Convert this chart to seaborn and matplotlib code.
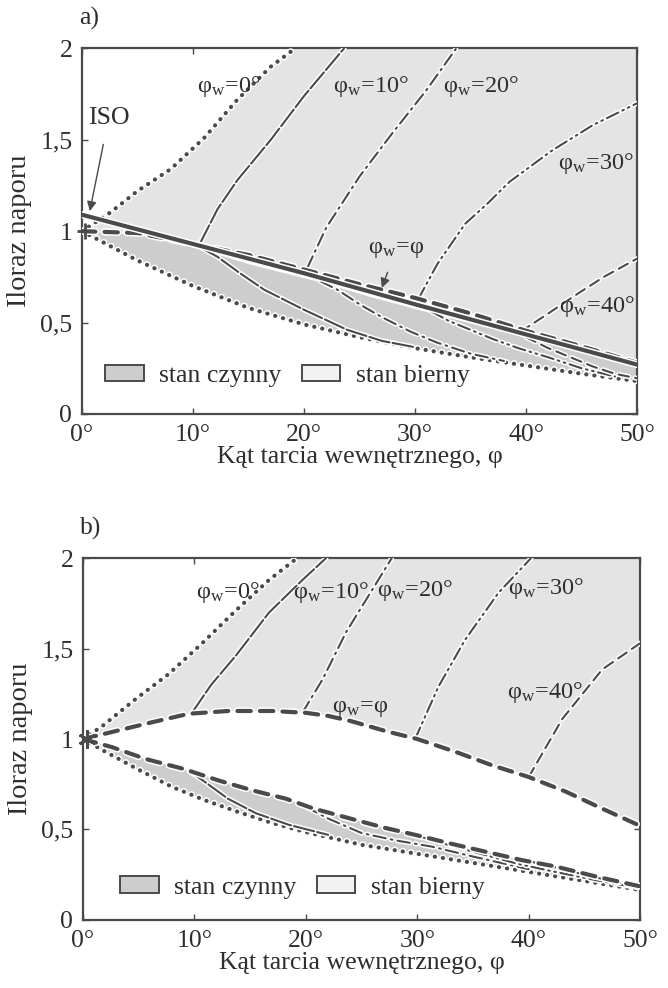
import numpy as np
import pandas as pd
import matplotlib
matplotlib.use("Agg")
import matplotlib.pyplot as plt
import matplotlib.patches as mpatches
import matplotlib.patheffects as pe
import seaborn as sns

# ── dane ─────────────────────────────────────────────────────────────────────
# a) górna i dolna krzywa kropkowana (phi_w = 0)
phi_up_a = [0, 2.5, 5, 8, 11, 14, 17, 19.2]
k_up_a = [1.0, 1.10, 1.22, 1.34, 1.51, 1.72, 1.90, 2.0]
phi_low_a = [0, 5, 10, 15, 20, 25, 30, 35, 40, 45, 50]
k_low_a = [1.0, 0.84, 0.70, 0.58, 0.49, 0.42, 0.36, 0.31, 0.265, 0.22, 0.18]
phi_iso = [0, 10, 20, 30, 40, 50]
k_iso = [1.09, 0.93, 0.77, 0.60, 0.435, 0.27]
# a) phi_w = phi, stan bierny / czynny
phi_pp_a = [0, 5, 10, 15, 20, 25, 30, 35, 40, 45, 50]
k_pp_a = [1.0, 0.99, 0.93, 0.87, 0.79, 0.71, 0.635, 0.55, 0.455, 0.37, 0.28]
phi_pa_a = [0, 5, 10.7, 15, 21.5, 26, 31.5, 36, 40, 45, 50]
k_pa_a = [1.0, 0.98, 0.90, 0.82, 0.72, 0.64, 0.55, 0.48, 0.42, 0.34, 0.26]
# a) stan bierny, phi_w = 10..40
phi_p10_a = [10.6, 12.2, 14, 17, 20, 23.6]
k_p10_a = [0.93, 1.12, 1.28, 1.50, 1.74, 2.0]
phi_p20_a = [20.3, 22, 25, 28, 31, 33.7]
k_p20_a = [0.80, 1.02, 1.30, 1.54, 1.77, 2.0]
phi_p30_a = [30.3, 32, 34.5, 36.5, 38.5, 42.3, 46, 50]
k_p30_a = [0.63, 0.82, 1.04, 1.15, 1.27, 1.44, 1.58, 1.70]
phi_p40_a = [39.5, 42, 44.7, 47, 50]
k_p40_a = [0.45, 0.55, 0.66, 0.75, 0.85]
# a) stan czynny, phi_w = 10..40
phi_a10_a = [10.7, 12.2, 14, 16.4, 20, 23.9, 27, 30]
k_a10_a = [0.91, 0.86, 0.78, 0.68, 0.57, 0.46, 0.40, 0.365]
phi_a20_a = [21.5, 23, 25, 27, 29.6, 32, 35, 38]
k_a20_a = [0.725, 0.68, 0.60, 0.53, 0.45, 0.39, 0.33, 0.29]
phi_a30_a = [31.5, 33, 35, 37, 39.3, 42, 45, 48]
k_a30_a = [0.56, 0.51, 0.46, 0.41, 0.36, 0.31, 0.25, 0.205]
phi_a40_a = [40, 42, 44, 46, 48, 50]
k_a40_a = [0.42, 0.36, 0.31, 0.26, 0.22, 0.195]

# b)
phi_up_b = [0, 1.7, 4.7, 7.7, 10.7, 13.7, 16.7, 19.2]
k_up_b = [1.0, 1.07, 1.22, 1.36, 1.53, 1.71, 1.88, 2.0]
phi_low_b = [0, 2, 5, 8, 11, 14, 17, 20, 25, 30, 35, 40, 45, 50]
k_low_b = [1.0, 0.93, 0.83, 0.735, 0.66, 0.595, 0.535, 0.485, 0.415, 0.365, 0.315, 0.265, 0.215, 0.165]
phi_pp_b = [0, 3, 6, 9.5, 13, 17, 20, 22, 24, 27.4, 30, 33.4, 36.7, 40, 43.3, 46.6, 50]
k_pp_b = [1.0, 1.045, 1.09, 1.14, 1.155, 1.155, 1.145, 1.128, 1.10, 1.04, 1.0, 0.93, 0.855, 0.79, 0.71, 0.615, 0.52]
phi_pa_b = [0, 2.6, 5.6, 9, 12.2, 15.2, 18.2, 20.7, 24, 27, 29.8, 33.1, 36.1, 39.4, 42.4, 46, 50]
k_pa_b = [1.0, 0.955, 0.89, 0.835, 0.77, 0.716, 0.67, 0.615, 0.56, 0.51, 0.47, 0.42, 0.377, 0.33, 0.295, 0.24, 0.185]
phi_p10_b = [9.8, 11.5, 13.7, 16.7, 19.7, 21.8]
k_p10_b = [1.147, 1.30, 1.46, 1.70, 1.88, 2.0]
phi_p20_b = [19.7, 21.5, 23.6, 25.5, 27.7]
k_p20_b = [1.147, 1.33, 1.59, 1.78, 2.0]
phi_p30_b = [29.8, 31.9, 34.3, 37.3, 40.2]
k_p30_b = [1.0, 1.29, 1.55, 1.81, 2.0]
phi_p40_b = [40, 43, 46.6, 50]
k_p40_b = [0.79, 1.11, 1.385, 1.53]
phi_a10_b = [9.5, 11, 13, 15.5, 18.5, 22]
k_a10_b = [0.825, 0.76, 0.67, 0.59, 0.525, 0.47]
phi_a20_b = [20, 22, 25, 28, 31.3, 35, 40]
k_a20_b = [0.625, 0.56, 0.48, 0.44, 0.405, 0.35, 0.28]
phi_a30_b = [30, 33, 36, 39, 42, 46, 50]
k_a30_b = [0.465, 0.41, 0.36, 0.31, 0.27, 0.22, 0.175]
phi_a40_b = [40, 43, 46, 50]
k_a40_b = [0.325, 0.28, 0.235, 0.18]

x_ticks = [0, 10, 20, 30, 40, 50]
x_ticklabels = ["0°", "10°", "20°", "30°", "40°", "50°"]
y_ticks = [0, 0.5, 1, 1.5, 2]
y_ticklabels = ["0", "0,5", "1", "1,5", "2"]

# ── styl ─────────────────────────────────────────────────────────────────────
sns.set_style("ticks")
plt.rcParams["font.family"] = ["Liberation Serif", "DejaVu Serif"]
plt.rcParams["mathtext.fontset"] = "stix"

LC = "#4a4a4a"
TC = "#2e2e2e"
C_BIERNY = "#e4e4e4"
C_CZYNNY = "#cdcdcd"
FS = 18.5

DOT = (0, (0.05, 1.9))
LONG = (0, (10, 1.5))
DASHDOT = (0, (6, 2.5, 0.8, 2.5))
DASHDOT2 = (0, (6, 2.2, 0.8, 2.2, 0.8, 2.2))
DASH = (0, (5, 3))
BOLDDASH = (0, (3.2, 2.2))


def line(ax, x, y, ls, lw):
    df = pd.DataFrame({"phi": x, "K": y})
    sns.lineplot(data=df, x="phi", y="K", ax=ax, color=LC, lw=lw, linestyle=ls,
                 sort=False, estimator=None, dash_capstyle="round",
                 path_effects=[pe.Stroke(linewidth=lw + 2.2, foreground="white"), pe.Normal()],
                 zorder=3)


def region(ax, x_top, y_top, x_bot, y_bot, color):
    xs = list(x_top) + list(x_bot)[::-1]
    ys = list(y_top) + list(y_bot)[::-1]
    ax.fill(xs, ys, color=color, lw=0, zorder=1)


def wlab(v):
    return "φ$_\\mathregular{w}$=" + v


def style_axes(ax, panel, legend_anchor):
    ax.set_xlim(0, 50)
    ax.set_ylim(0, 2)
    ax.set_xticks(x_ticks)
    ax.set_xticklabels(x_ticklabels)
    ax.set_yticks(y_ticks)
    ax.set_yticklabels(y_ticklabels)
    ax.tick_params(direction="in", top=True, right=True, length=4, width=1,
                   color=LC, labelsize=FS, labelcolor=TC, pad=7)
    for s in ax.spines.values():
        s.set_color(LC)
        s.set_linewidth(1.6)
    ax.set_xlabel("Kąt tarcia wewnętrznego, φ", fontsize=FS, color=TC, labelpad=0)
    ax.set_ylabel("Iloraz naporu", fontsize=FS + 2, color=TC, labelpad=6)
    ax.text(-0.005, 1.05, panel, transform=ax.transAxes, fontsize=FS, color=TC,
            ha="left", va="bottom")
    handles = [mpatches.Patch(facecolor=C_CZYNNY, edgecolor=LC, lw=1.4, label="stan czynny"),
               mpatches.Patch(facecolor="#f2f2f2", edgecolor=LC, lw=1.4, label="stan bierny")]
    ax.legend(handles=handles, ncol=2, loc="lower left", bbox_to_anchor=legend_anchor,
              frameon=False, fontsize=FS, handlelength=1.5, handleheight=0.6,
              handletextpad=0.6, columnspacing=0.8, labelcolor=TC)


fig = plt.figure(figsize=(6.68, 9.88), dpi=100)
ax_a = fig.add_axes([0.1228, 0.581, 0.831, 0.370])
ax_b = fig.add_axes([0.1243, 0.069, 0.834, 0.366])

# ── a) ───────────────────────────────────────────────────────────────────────
ax = ax_a
region(ax, phi_up_a + [50], k_up_a + [2.0], phi_pp_a, k_pp_a, C_BIERNY)
region(ax, phi_pa_a, k_pa_a, phi_low_a, k_low_a, C_CZYNNY)
line(ax, phi_up_a, k_up_a, DOT, 3.0)
line(ax, phi_low_a, k_low_a, DOT, 3.0)
line(ax, phi_p10_a, k_p10_a, LONG, 1.5)
line(ax, phi_p20_a, k_p20_a, DASHDOT, 1.5)
line(ax, phi_p30_a, k_p30_a, DASHDOT2, 1.5)
line(ax, phi_p40_a, k_p40_a, DASH, 1.5)
line(ax, phi_a10_a, k_a10_a, LONG, 1.5)
line(ax, phi_a20_a, k_a20_a, DASHDOT, 1.5)
line(ax, phi_a30_a, k_a30_a, DASHDOT2, 1.5)
line(ax, phi_a40_a, k_a40_a, DASH, 1.5)
line(ax, phi_pp_a, k_pp_a, BOLDDASH, 3.0)
line(ax, phi_iso, k_iso, "-", 3.0)
ax.plot([0.3], [1.0], marker="+", ms=12, mew=2, color=LC, zorder=4, clip_on=False)

lab = dict(fontsize=17.5, color=TC, ha="center", va="center", zorder=5)
ax.text(13.2, 1.79, wlab("0°"), **lab)
ax.text(26.0, 1.79, wlab("10°"), **lab)
ax.text(35.9, 1.79, wlab("20°"), **lab)
ax.text(46.3, 1.37, wlab("30°"), **lab)
ax.text(46.4, 0.59, wlab("40°"), **lab)
ax.annotate(wlab("φ"), xy=(27.0, 0.69), xytext=(28.3, 0.90), fontsize=17.5, color=TC,
            ha="center", va="center", zorder=5,
            arrowprops=dict(arrowstyle="-|>", color=LC, lw=1.0, mutation_scale=14,
                            shrinkA=7, shrinkB=0))
ax.annotate("ISO", xy=(0.7, 1.11), xytext=(2.4, 1.62), fontsize=FS, color=TC,
            ha="center", va="center", zorder=5,
            arrowprops=dict(arrowstyle="-|>", color=LC, lw=1.0, mutation_scale=14,
                            shrinkA=9, shrinkB=0))
style_axes(ax, "a)", (0.0, 0.01))

# ── b) ───────────────────────────────────────────────────────────────────────
ax = ax_b
region(ax, phi_up_b + [50], k_up_b + [2.0], phi_pp_b, k_pp_b, C_BIERNY)
region(ax, phi_pa_b, k_pa_b, phi_low_b, k_low_b, C_CZYNNY)
line(ax, phi_up_b, k_up_b, DOT, 3.0)
line(ax, phi_low_b, k_low_b, DOT, 3.0)
line(ax, phi_p10_b, k_p10_b, LONG, 1.5)
line(ax, phi_p20_b, k_p20_b, DASHDOT, 1.5)
line(ax, phi_p30_b, k_p30_b, DASHDOT2, 1.5)
line(ax, phi_p40_b, k_p40_b, DASH, 1.5)
line(ax, phi_a10_b, k_a10_b, LONG, 1.5)
line(ax, phi_a20_b, k_a20_b, DASHDOT, 1.5)
line(ax, phi_a30_b, k_a30_b, DASHDOT2, 1.5)
line(ax, phi_a40_b, k_a40_b, DASH, 1.5)
line(ax, phi_pp_b, k_pp_b, BOLDDASH, 3.0)
line(ax, phi_pa_b, k_pa_b, BOLDDASH, 3.0)
ax.plot([0.4], [1.0], marker=(6, 2, 0), ms=13, mew=2, color=LC, zorder=4, clip_on=False)

ax.text(13.0, 1.81, wlab("0°"), **lab)
ax.text(22.3, 1.81, wlab("10°"), **lab)
ax.text(29.8, 1.82, wlab("20°"), **lab)
ax.text(41.6, 1.83, wlab("30°"), **lab)
ax.text(41.5, 1.26, wlab("40°"), **lab)
ax.text(24.9, 1.17, wlab("φ"), **lab)
style_axes(ax, "b)", (0.025, -0.005))

fig.savefig("out.png", dpi=100)
